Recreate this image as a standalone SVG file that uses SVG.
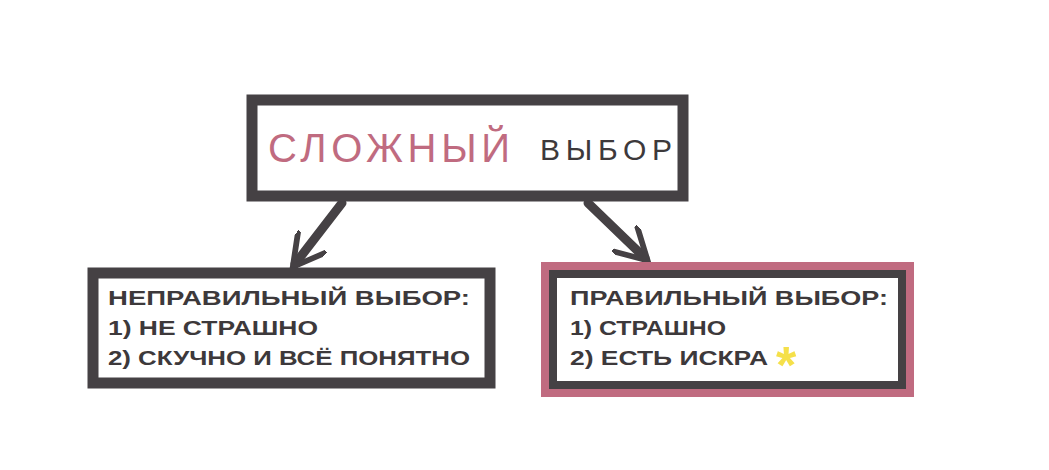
<svg xmlns="http://www.w3.org/2000/svg" width="1049" height="470" viewBox="0 0 1049 470">
<defs>
<style>
.box{fill:#fff;stroke:#454144;stroke-width:11}
.t{font-family:"Liberation Sans",Arial,sans-serif;font-weight:bold;fill:#3d393b;font-size:20px}
.c{fill:none;stroke:#454144;stroke-width:9;stroke-linecap:round}
</style>
<marker id="ah" viewBox="0 0 10 10" refX="8" refY="5" markerWidth="4" markerHeight="4" orient="auto" markerUnits="strokeWidth">
<path d="M0,0 L9,5 L0,10" fill="none" stroke="#454144" stroke-width="1.6" stroke-linecap="round"/>
</marker>
</defs>
<rect width="1049" height="470" fill="#fff"/>
<g id="connectors">
<line class="c" x1="342" y1="203" x2="295" y2="264" marker-end="url(#ah)"/>
<line class="c" x1="588" y1="203" x2="645" y2="258" marker-end="url(#ah)"/>
</g>
<g id="top">
<rect class="box" x="252" y="100" width="431" height="96"/>
<text x="268" y="162" font-family="Liberation Sans,Arial,sans-serif" font-size="40" textLength="242" lengthAdjust="spacing" fill="#c06b80">СЛОЖНЫЙ</text>
<text x="540" y="160" font-family="Liberation Sans,Arial,sans-serif" font-size="30" textLength="132" lengthAdjust="spacing" fill="#3d393b">ВЫБОР</text>
</g>
<g id="left">
<rect class="box" x="93" y="273" width="397" height="110"/>
<text class="t" x="108" y="305" textLength="362" lengthAdjust="spacingAndGlyphs">НЕПРАВИЛЬНЫЙ ВЫБОР:</text>
<text class="t" x="108" y="335" textLength="210" lengthAdjust="spacingAndGlyphs">1) НЕ СТРАШНО</text>
<text class="t" x="108" y="365" textLength="362" lengthAdjust="spacingAndGlyphs">2) СКУЧНО И ВСЁ ПОНЯТНО</text>
</g>
<g id="right">
<rect x="545" y="266" width="365" height="127" fill="none" stroke="#c06b80" stroke-width="8"/>
<rect x="553" y="274" width="349" height="111" fill="#fff" stroke="#454144" stroke-width="8"/>
<text class="t" x="570" y="305" textLength="318" lengthAdjust="spacingAndGlyphs">ПРАВИЛЬНЫЙ ВЫБОР:</text>
<text class="t" x="570" y="335" textLength="156" lengthAdjust="spacingAndGlyphs">1) СТРАШНО</text>
<text class="t" x="570" y="365" textLength="198" lengthAdjust="spacingAndGlyphs">2) ЕСТЬ ИСКРА</text>
<text x="776" y="383" font-family="Liberation Sans,Arial,sans-serif" font-weight="bold" font-size="52" fill="#f5e04a">*</text>
</g>
</svg>
